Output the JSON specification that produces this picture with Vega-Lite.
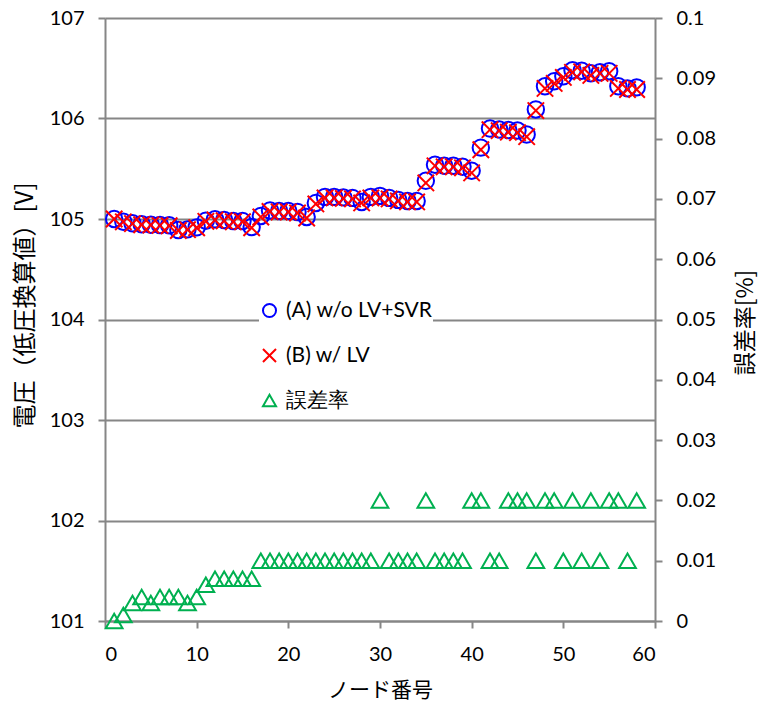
{
  "$schema": "https://vega.github.io/schema/vega-lite/v6.json",
  "width": 550,
  "height": 603,
  "autosize": {"type": "none"},
  "padding": {"left": 105, "right": 103, "top": 18, "bottom": 83},
  "background": "white",
  "config": {
    "view": {"stroke": null},
    "font": "Lato",
    "axis": {
      "labelFont": "Lato",
      "labelFontSize": 20,
      "labelColor": "#000000",
      "titleFont": "Noto Sans CJK JP",
      "titleFontSize": 21,
      "titleFontWeight": "normal",
      "titleColor": "#000000",
      "domainColor": "#868686",
      "domainWidth": 2,
      "tickColor": "#868686",
      "tickWidth": 2,
      "tickSize": 7,
      "labelPadding": 14,
      "gridColor": "#868686",
      "gridWidth": 2
    }
  },
  "data": {
    "values": [
      {"n":1,"s":"(A) w/o LV+SVR","v":105.000},{"n":2,"s":"(A) w/o LV+SVR","v":104.973},{"n":3,"s":"(A) w/o LV+SVR","v":104.957},{"n":4,"s":"(A) w/o LV+SVR","v":104.947},{"n":5,"s":"(A) w/o LV+SVR","v":104.943},{"n":6,"s":"(A) w/o LV+SVR","v":104.940},{"n":7,"s":"(A) w/o LV+SVR","v":104.937},{"n":8,"s":"(A) w/o LV+SVR","v":104.890},{"n":9,"s":"(A) w/o LV+SVR","v":104.897},{"n":10,"s":"(A) w/o LV+SVR","v":104.917},
      {"n":11,"s":"(A) w/o LV+SVR","v":104.983},{"n":12,"s":"(A) w/o LV+SVR","v":104.997},{"n":13,"s":"(A) w/o LV+SVR","v":104.990},{"n":14,"s":"(A) w/o LV+SVR","v":104.980},{"n":15,"s":"(A) w/o LV+SVR","v":104.980},{"n":16,"s":"(A) w/o LV+SVR","v":104.920},{"n":17,"s":"(A) w/o LV+SVR","v":105.030},{"n":18,"s":"(A) w/o LV+SVR","v":105.085},{"n":19,"s":"(A) w/o LV+SVR","v":105.080},{"n":20,"s":"(A) w/o LV+SVR","v":105.080},
      {"n":21,"s":"(A) w/o LV+SVR","v":105.070},{"n":22,"s":"(A) w/o LV+SVR","v":105.020},{"n":23,"s":"(A) w/o LV+SVR","v":105.160},{"n":24,"s":"(A) w/o LV+SVR","v":105.220},{"n":25,"s":"(A) w/o LV+SVR","v":105.220},{"n":26,"s":"(A) w/o LV+SVR","v":105.215},{"n":27,"s":"(A) w/o LV+SVR","v":105.210},{"n":28,"s":"(A) w/o LV+SVR","v":105.170},{"n":29,"s":"(A) w/o LV+SVR","v":105.220},{"n":30,"s":"(A) w/o LV+SVR","v":105.230},
      {"n":31,"s":"(A) w/o LV+SVR","v":105.210},{"n":32,"s":"(A) w/o LV+SVR","v":105.190},{"n":33,"s":"(A) w/o LV+SVR","v":105.180},{"n":34,"s":"(A) w/o LV+SVR","v":105.180},{"n":35,"s":"(A) w/o LV+SVR","v":105.380},{"n":36,"s":"(A) w/o LV+SVR","v":105.540},{"n":37,"s":"(A) w/o LV+SVR","v":105.530},{"n":38,"s":"(A) w/o LV+SVR","v":105.530},{"n":39,"s":"(A) w/o LV+SVR","v":105.520},{"n":40,"s":"(A) w/o LV+SVR","v":105.480},
      {"n":41,"s":"(A) w/o LV+SVR","v":105.710},{"n":42,"s":"(A) w/o LV+SVR","v":105.900},{"n":43,"s":"(A) w/o LV+SVR","v":105.890},{"n":44,"s":"(A) w/o LV+SVR","v":105.885},{"n":45,"s":"(A) w/o LV+SVR","v":105.880},{"n":46,"s":"(A) w/o LV+SVR","v":105.840},{"n":47,"s":"(A) w/o LV+SVR","v":106.090},{"n":48,"s":"(A) w/o LV+SVR","v":106.320},{"n":49,"s":"(A) w/o LV+SVR","v":106.370},{"n":50,"s":"(A) w/o LV+SVR","v":106.420},
      {"n":51,"s":"(A) w/o LV+SVR","v":106.480},{"n":52,"s":"(A) w/o LV+SVR","v":106.475},{"n":53,"s":"(A) w/o LV+SVR","v":106.450},{"n":54,"s":"(A) w/o LV+SVR","v":106.460},{"n":55,"s":"(A) w/o LV+SVR","v":106.470},{"n":56,"s":"(A) w/o LV+SVR","v":106.320},{"n":57,"s":"(A) w/o LV+SVR","v":106.300},{"n":58,"s":"(A) w/o LV+SVR","v":106.310},
      {"n":1,"s":"(B) w/ LV","v":105.000},{"n":2,"s":"(B) w/ LV","v":104.972},{"n":3,"s":"(B) w/ LV","v":104.954},{"n":4,"s":"(B) w/ LV","v":104.943},{"n":5,"s":"(B) w/ LV","v":104.940},{"n":6,"s":"(B) w/ LV","v":104.936},{"n":7,"s":"(B) w/ LV","v":104.933},{"n":8,"s":"(B) w/ LV","v":104.886},{"n":9,"s":"(B) w/ LV","v":104.894},{"n":10,"s":"(B) w/ LV","v":104.913},
      {"n":11,"s":"(B) w/ LV","v":104.977},{"n":12,"s":"(B) w/ LV","v":104.990},{"n":13,"s":"(B) w/ LV","v":104.983},{"n":14,"s":"(B) w/ LV","v":104.973},{"n":15,"s":"(B) w/ LV","v":104.973},{"n":16,"s":"(B) w/ LV","v":104.913},{"n":17,"s":"(B) w/ LV","v":105.020},{"n":18,"s":"(B) w/ LV","v":105.075},{"n":19,"s":"(B) w/ LV","v":105.070},{"n":20,"s":"(B) w/ LV","v":105.070},
      {"n":21,"s":"(B) w/ LV","v":105.060},{"n":22,"s":"(B) w/ LV","v":105.010},{"n":23,"s":"(B) w/ LV","v":105.150},{"n":24,"s":"(B) w/ LV","v":105.210},{"n":25,"s":"(B) w/ LV","v":105.210},{"n":26,"s":"(B) w/ LV","v":105.205},{"n":27,"s":"(B) w/ LV","v":105.200},{"n":28,"s":"(B) w/ LV","v":105.160},{"n":29,"s":"(B) w/ LV","v":105.210},{"n":30,"s":"(B) w/ LV","v":105.209},
      {"n":31,"s":"(B) w/ LV","v":105.200},{"n":32,"s":"(B) w/ LV","v":105.180},{"n":33,"s":"(B) w/ LV","v":105.170},{"n":34,"s":"(B) w/ LV","v":105.170},{"n":35,"s":"(B) w/ LV","v":105.359},{"n":36,"s":"(B) w/ LV","v":105.529},{"n":37,"s":"(B) w/ LV","v":105.519},{"n":38,"s":"(B) w/ LV","v":105.519},{"n":39,"s":"(B) w/ LV","v":105.509},{"n":40,"s":"(B) w/ LV","v":105.459},
      {"n":41,"s":"(B) w/ LV","v":105.689},{"n":42,"s":"(B) w/ LV","v":105.889},{"n":43,"s":"(B) w/ LV","v":105.879},{"n":44,"s":"(B) w/ LV","v":105.864},{"n":45,"s":"(B) w/ LV","v":105.859},{"n":46,"s":"(B) w/ LV","v":105.819},{"n":47,"s":"(B) w/ LV","v":106.079},{"n":48,"s":"(B) w/ LV","v":106.299},{"n":49,"s":"(B) w/ LV","v":106.349},{"n":50,"s":"(B) w/ LV","v":106.409},
      {"n":51,"s":"(B) w/ LV","v":106.459},{"n":52,"s":"(B) w/ LV","v":106.464},{"n":53,"s":"(B) w/ LV","v":106.429},{"n":54,"s":"(B) w/ LV","v":106.449},{"n":55,"s":"(B) w/ LV","v":106.449},{"n":56,"s":"(B) w/ LV","v":106.299},{"n":57,"s":"(B) w/ LV","v":106.289},{"n":58,"s":"(B) w/ LV","v":106.289},
      {"n":1,"s":"誤差率","v":0},{"n":2,"s":"誤差率","v":0.001},{"n":3,"s":"誤差率","v":0.003},{"n":4,"s":"誤差率","v":0.004},{"n":5,"s":"誤差率","v":0.003},{"n":6,"s":"誤差率","v":0.004},{"n":7,"s":"誤差率","v":0.004},{"n":8,"s":"誤差率","v":0.004},{"n":9,"s":"誤差率","v":0.003},{"n":10,"s":"誤差率","v":0.004},
      {"n":11,"s":"誤差率","v":0.006},{"n":12,"s":"誤差率","v":0.007},{"n":13,"s":"誤差率","v":0.007},{"n":14,"s":"誤差率","v":0.007},{"n":15,"s":"誤差率","v":0.007},{"n":16,"s":"誤差率","v":0.007},{"n":17,"s":"誤差率","v":0.01},{"n":18,"s":"誤差率","v":0.01},{"n":19,"s":"誤差率","v":0.01},{"n":20,"s":"誤差率","v":0.01},
      {"n":21,"s":"誤差率","v":0.01},{"n":22,"s":"誤差率","v":0.01},{"n":23,"s":"誤差率","v":0.01},{"n":24,"s":"誤差率","v":0.01},{"n":25,"s":"誤差率","v":0.01},{"n":26,"s":"誤差率","v":0.01},{"n":27,"s":"誤差率","v":0.01},{"n":28,"s":"誤差率","v":0.01},{"n":29,"s":"誤差率","v":0.01},{"n":30,"s":"誤差率","v":0.02},
      {"n":31,"s":"誤差率","v":0.01},{"n":32,"s":"誤差率","v":0.01},{"n":33,"s":"誤差率","v":0.01},{"n":34,"s":"誤差率","v":0.01},{"n":35,"s":"誤差率","v":0.02},{"n":36,"s":"誤差率","v":0.01},{"n":37,"s":"誤差率","v":0.01},{"n":38,"s":"誤差率","v":0.01},{"n":39,"s":"誤差率","v":0.01},{"n":40,"s":"誤差率","v":0.02},
      {"n":41,"s":"誤差率","v":0.02},{"n":42,"s":"誤差率","v":0.01},{"n":43,"s":"誤差率","v":0.01},{"n":44,"s":"誤差率","v":0.02},{"n":45,"s":"誤差率","v":0.02},{"n":46,"s":"誤差率","v":0.02},{"n":47,"s":"誤差率","v":0.01},{"n":48,"s":"誤差率","v":0.02},{"n":49,"s":"誤差率","v":0.02},{"n":50,"s":"誤差率","v":0.01},
      {"n":51,"s":"誤差率","v":0.02},{"n":52,"s":"誤差率","v":0.01},{"n":53,"s":"誤差率","v":0.02},{"n":54,"s":"誤差率","v":0.01},{"n":55,"s":"誤差率","v":0.02},{"n":56,"s":"誤差率","v":0.02},{"n":57,"s":"誤差率","v":0.01},{"n":58,"s":"誤差率","v":0.02}
    ]
  },
  "encoding": {
    "x": {
      "field": "n",
      "type": "quantitative",
      "scale": {"domain": [0, 60], "nice": false, "zero": false},
      "axis": {
        "values": [0, 10, 20, 30, 40, 50, 60],
        "grid": false,
        "title": "ノード番号",
        "titleX": 275,
        "titleY": 69,
        "titleBaseline": "middle",
        "labelPadding": 16
      }
    },
    "color": {
      "field": "s",
      "type": "nominal",
      "scale": {
        "domain": ["(A) w/o LV+SVR", "(B) w/ LV", "誤差率"],
        "range": ["#0000FF", "#FF0000", "#00B050"]
      },
      "legend": {
        "title": null,
        "orient": "none",
        "legendX": 154,
        "legendY": 282,
        "padding": 0,
        "fillColor": "white",
        "labelFont": "Lato",
        "labelFontSize": 21,
        "labelColor": "#000000",
        "labelOffset": 6,
        "symbolSize": 170,
        "symbolStrokeWidth": 2,
        "rowPadding": 22
      }
    },
    "shape": {
      "field": "s",
      "type": "nominal",
      "scale": {
        "domain": ["(A) w/o LV+SVR", "(B) w/ LV", "誤差率"],
        "range": ["circle", "M-1,-1L1,1M-1,1L1,-1", "triangle-up"]
      },
      "legend": {
        "title": null,
        "orient": "none",
        "legendX": 154,
        "legendY": 282,
        "padding": 0,
        "fillColor": "white",
        "labelFont": "Lato",
        "labelFontSize": 21,
        "labelColor": "#000000",
        "labelOffset": 6,
        "symbolSize": 170,
        "symbolStrokeWidth": 2,
        "rowPadding": 22
      }
    }
  },
  "layer": [
    {
      "transform": [{"filter": "datum.s !== '誤差率'"}],
      "mark": {"type": "point", "filled": false, "size": 270, "strokeWidth": 2, "opacity": 1},
      "encoding": {
        "y": {
          "field": "v",
          "type": "quantitative",
          "scale": {"domain": [101, 107], "nice": false, "zero": false},
          "axis": {
            "orient": "left",
            "values": [101, 102, 103, 104, 105, 106, 107],
            "grid": true,
            "title": "電圧（低圧換算値）[V]",
            "titleFontSize": 24,
            "titleAngle": 270,
            "titleX": -80,
            "titleY": 287,
            "titleBaseline": "middle"
          }
        }
      }
    },
    {
      "transform": [{"filter": "datum.s === '誤差率'"}],
      "mark": {"type": "point", "filled": false, "size": 280, "strokeWidth": 2, "opacity": 1},
      "encoding": {
        "y": {
          "field": "v",
          "type": "quantitative",
          "scale": {"domain": [0, 0.1], "nice": false, "zero": false},
          "axis": {
            "orient": "right",
            "values": [0, 0.01, 0.02, 0.03, 0.04, 0.05, 0.06, 0.07, 0.08, 0.09, 0.1],
            "format": "~g",
            "grid": false,
            "title": "誤差率[%]",
            "titleFontSize": 23,
            "titleAngle": 270,
            "titleX": 90,
            "titleY": 304,
            "titleBaseline": "middle"
          }
        }
      }
    }
  ],
  "resolve": {"scale": {"y": "independent"}}
}
